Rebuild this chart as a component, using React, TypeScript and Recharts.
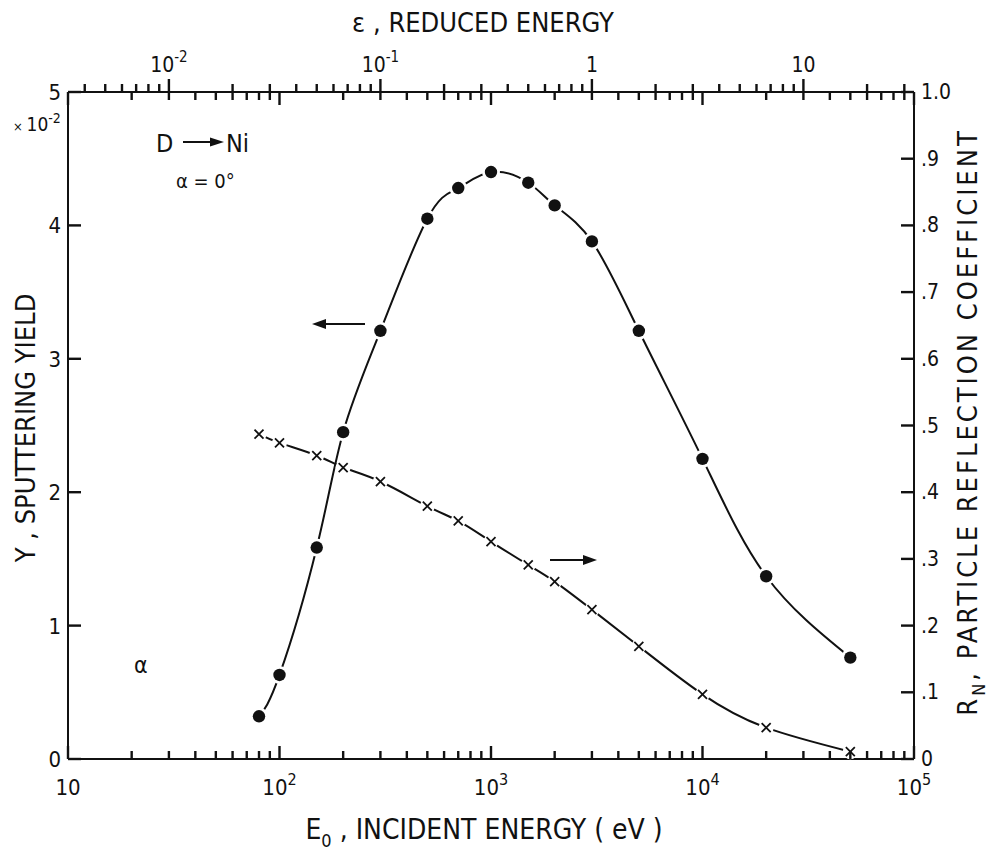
import React from 'react';
import { ComposedChart, Line, XAxis, YAxis } from 'recharts';

// ---- data ----
const energies = [80, 100, 150, 200, 300, 500, 700, 1000, 1500, 2000, 3000, 5000, 10000, 20000, 50000];
const sputterYield = [0.32, 0.63, 1.585, 2.45, 3.21, 4.05, 4.28, 4.4, 4.32, 4.15, 3.88, 3.21, 2.25, 1.37, 0.76];
const reflection = [0.487, 0.474, 0.455, 0.437, 0.416, 0.379, 0.357, 0.326, 0.291, 0.266, 0.224, 0.169, 0.097, 0.047, 0.011];

// ---- axis definitions ----
const energyDomain = [10, 100000];
const energyDecades = [10, 100, 1000, 10000];
const energyMajorLabels = [
  { value: 10, base: '10', exp: '' },
  { value: 100, base: '10', exp: '2' },
  { value: 1000, base: '10', exp: '3' },
  { value: 10000, base: '10', exp: '4' },
  { value: 100000, base: '10', exp: '5' },
];
const minorMultipliers = [1, 2, 3, 4, 5, 6, 7, 8, 9];
const epsFactor = 3000; // E0 = 3000 eV * epsilon
const epsDecades = [0.001, 0.01, 0.1, 1, 10];
const epsMajorLabels = [
  { value: 0.01, base: '10', exp: '-2' },
  { value: 0.1, base: '10', exp: '-1' },
  { value: 1, base: '1', exp: '' },
  { value: 10, base: '10', exp: '' },
];
const leftTicks = [0, 1, 2, 3, 4, 5];
const rightTicks = [0, 0.1, 0.2, 0.3, 0.4, 0.5, 0.6, 0.7, 0.8, 0.9, 1.0];
const rightLabels = ['0', '.1', '.2', '.3', '.4', '.5', '.6', '.7', '.8', '.9', '1.0'];

const INK = '#111111';
const FONT = "'DejaVu Sans Condensed', 'Liberation Sans Narrow', 'DejaVu Sans', sans-serif";

const data = energies.map((e, i) => ({ E: e, Y: sputterYield[i], R: reflection[i] }));

const energyTicks: number[] = [];
energyDecades.forEach((d) => minorMultipliers.forEach((m) => energyTicks.push(d * m)));
energyTicks.push(100000);

const epsTicksE: number[] = [];
epsDecades.forEach((d) =>
  minorMultipliers.forEach((m) => {
    const e = d * m * epsFactor;
    if (e >= 10 - 1e-9 && e <= 100000 + 1e-9) epsTicksE.push(e);
  })
);

const near = (a: number, b: number) => Math.abs(a - b) / Math.max(Math.abs(b), 1e-9) < 1e-6;
const topTicks = Array.from(new Set([...energyTicks, ...epsTicksE].map((v) => Math.round(v * 1000) / 1000))).sort((a, b) => a - b);

const isEnergyMajor = (v: number) => energyMajorLabels.some((m) => near(v, m.value));
const isEps = (v: number) => epsTicksE.some((e) => near(v, e));
const epsMajor = (v: number) => epsMajorLabels.find((m) => near(v, m.value * epsFactor));
const isEnergy = (v: number) => energyTicks.some((e) => near(v, e));

const MINOR = 8;
const MAJOR = 13;
const TW = 2.4;

const BottomTick = (props: any) => {
  const x = Number(props.x);
  const y = Number(props.y);
  const v = Number(props.payload.value);
  const major = isEnergyMajor(v);
  const lab = energyMajorLabels.find((m) => near(v, m.value));
  const len = major ? MAJOR : MINOR;
  return (
    <g>
      <rect x={x - TW / 2} y={y - len} width={TW} height={len} fill={INK} />
      {lab && (
        <text x={x} y={y + 36} textAnchor="middle" fontFamily={FONT} fontSize={22} fill={INK}>
          <tspan>{lab.base}</tspan>
          {lab.exp && (
            <tspan dy={-10} fontSize={16}>
              {lab.exp}
            </tspan>
          )}
        </text>
      )}
    </g>
  );
};

const TopTick = (props: any) => {
  const x = Number(props.x);
  const y = Number(props.y);
  const v = Number(props.payload.value);
  const lab = epsMajor(v);
  const downLen = isEnergy(v) ? (isEnergyMajor(v) ? MAJOR : MINOR) : 0;
  const upLen = isEps(v) ? (lab ? MAJOR : MINOR) : 0;
  return (
    <g>
      <rect x={x - TW / 2} y={y - upLen} width={TW} height={upLen + downLen} fill={INK} />
      {lab && (
        <text x={x} y={y - 20} textAnchor="middle" fontFamily={FONT} fontSize={21} fill={INK}>
          <tspan>{lab.base}</tspan>
          {lab.exp && (
            <tspan dy={-10} fontSize={15}>
              {lab.exp}
            </tspan>
          )}
        </text>
      )}
    </g>
  );
};

const LeftTick = (props: any) => {
  const x = Number(props.x);
  const y = Number(props.y);
  const v = Number(props.payload.value);
  return (
    <g>
      <rect x={x} y={y - TW / 2} width={MAJOR} height={TW} fill={INK} />
      <text x={x - 7} y={y + 8} textAnchor="end" fontFamily={FONT} fontSize={22} fill={INK}>
        {String(v)}
      </text>
    </g>
  );
};

const RightTick = (props: any) => {
  const x = Number(props.x);
  const y = Number(props.y);
  const v = Number(props.payload.value);
  const idx = rightTicks.findIndex((t) => Math.abs(t - v) < 1e-6);
  return (
    <g>
      <rect x={x - MAJOR} y={y - TW / 2} width={MAJOR} height={TW} fill={INK} />
      <text x={x + 7} y={y + 7} textAnchor="start" fontFamily={FONT} fontSize={21} fill={INK}>
        {rightLabels[idx >= 0 ? idx : 0]}
      </text>
    </g>
  );
};

const YieldDot = (props: any) => {
  const { cx, cy } = props;
  if (cx == null || cy == null) return <g />;
  return (
    <g>
      <circle cx={cx} cy={cy} r={9} fill="#fff" stroke="none" />
      <circle cx={cx} cy={cy} r={6.2} fill={INK} stroke="none" />
    </g>
  );
};

const CrossDot = (props: any) => {
  const { cx, cy } = props;
  if (cx == null || cy == null) return <g />;
  const s = 4.5;
  return (
    <g>
      <circle cx={cx} cy={cy} r={7.5} fill="#fff" stroke="none" />
      <path
        d={`M${cx - s},${cy - s} L${cx + s},${cy + s} M${cx - s},${cy + s} L${cx + s},${cy - s}`}
        stroke={INK}
        strokeWidth={1.8}
        fill="none"
      />
    </g>
  );
};

const Annotations = () => (
  <svg
    width={992}
    height={851}
    style={{ position: 'absolute', left: 0, top: 0, pointerEvents: 'none' }}
    fontFamily={FONT}
    fill={INK}
  >
    <text x={483} y={32} textAnchor="middle" fontSize={27}>
      ε , REDUCED ENERGY
    </text>
    <text x={484} y={839} textAnchor="middle" fontSize={28}>
      <tspan>E</tspan>
      <tspan dy={8} fontSize={18}>0</tspan>
      <tspan dy={-8}> , INCIDENT ENERGY ( eV )</tspan>
    </text>
    <text x={35} y={428} textAnchor="middle" fontSize={27} transform="rotate(-90 35 428)">
      Y , SPUTTERING YIELD
    </text>
    <text x={977} y={422} textAnchor="middle" fontSize={27} letterSpacing={3} transform="rotate(-90 977 422)">
      <tspan>R</tspan>
      <tspan dy={8} fontSize={18}>N</tspan>
      <tspan dy={-8}>, PARTICLE REFLECTION COEFFICIENT</tspan>
    </text>
    <text x={13} y={131} fontSize={19}>
      <tspan fontSize={13}>× </tspan>
      <tspan>10</tspan>
      <tspan dy={-8} fontSize={14}>-2</tspan>
    </text>
    <text x={156} y={152} fontSize={25}>D</text>
    <line x1={183} y1={142} x2={212} y2={142} stroke={INK} strokeWidth={2} />
    <polygon points="224,142 210,137.5 210,146.5" fill={INK} />
    <text x={226} y={152} fontSize={25}>Ni</text>
    <text x={176} y={188} fontSize={20}>α = 0°</text>
    <text x={134} y={673} fontSize={23}>α</text>
    <line x1={365} y1={324} x2={324} y2={324} stroke={INK} strokeWidth={2} />
    <polygon points="312,324 326,319 326,329" fill={INK} />
    <line x1={550} y1={560} x2={585} y2={560} stroke={INK} strokeWidth={2} />
    <polygon points="597,560 583,555 583,565" fill={INK} />
  </svg>
);

export default function App() {
  return (
    <div style={{ position: 'absolute', left: 0, top: 0, width: 992, height: 851, background: '#fff' }}>
      <Annotations />
      <ComposedChart
        width={992}
        height={851}
        data={data}
        margin={{ top: 52, right: 8, bottom: 52, left: 8 }}
        style={{ position: 'absolute', left: 0, top: 0 }}
      >
        <XAxis
          xAxisId="bottom"
          dataKey="E"
          type="number"
          scale="log"
          domain={energyDomain}
          allowDataOverflow
          ticks={energyTicks}
          interval={0}
          height={40}
          tickSize={0}
          tickMargin={0}
          tickLine={false}
          tick={<BottomTick />}
          axisLine={{ stroke: INK, strokeWidth: 2 }}
        />
        <XAxis
          xAxisId="top"
          orientation="top"
          dataKey="E"
          type="number"
          scale="log"
          domain={energyDomain}
          allowDataOverflow
          ticks={topTicks}
          interval={0}
          height={40}
          tickSize={0}
          tickMargin={0}
          tickLine={false}
          tick={<TopTick />}
          axisLine={{ stroke: INK, strokeWidth: 2 }}
        />
        <YAxis
          yAxisId="left"
          type="number"
          domain={[0, 5]}
          ticks={leftTicks}
          interval={0}
          width={60}
          tickSize={0}
          tickMargin={0}
          tickLine={false}
          tick={<LeftTick />}
          axisLine={{ stroke: INK, strokeWidth: 2 }}
        />
        <YAxis
          yAxisId="right"
          orientation="right"
          type="number"
          domain={[0, 1]}
          ticks={rightTicks}
          interval={0}
          width={70}
          tickSize={0}
          tickMargin={0}
          tickLine={false}
          tick={<RightTick />}
          axisLine={{ stroke: INK, strokeWidth: 2 }}
        />
        <Line
          xAxisId="top"
          yAxisId="left"
          dataKey="Y"
          stroke="none"
          dot={false}
          activeDot={false}
          isAnimationActive={false}
          legendType="none"
        />
        <Line
          xAxisId="bottom"
          yAxisId="left"
          dataKey="Y"
          type="natural"
          stroke={INK}
          strokeWidth={2}
          dot={<YieldDot />}
          activeDot={false}
          isAnimationActive={false}
        />
        <Line
          xAxisId="bottom"
          yAxisId="right"
          dataKey="R"
          type="natural"
          stroke={INK}
          strokeWidth={2}
          dot={<CrossDot />}
          activeDot={false}
          isAnimationActive={false}
        />
      </ComposedChart>
    </div>
  );
}
